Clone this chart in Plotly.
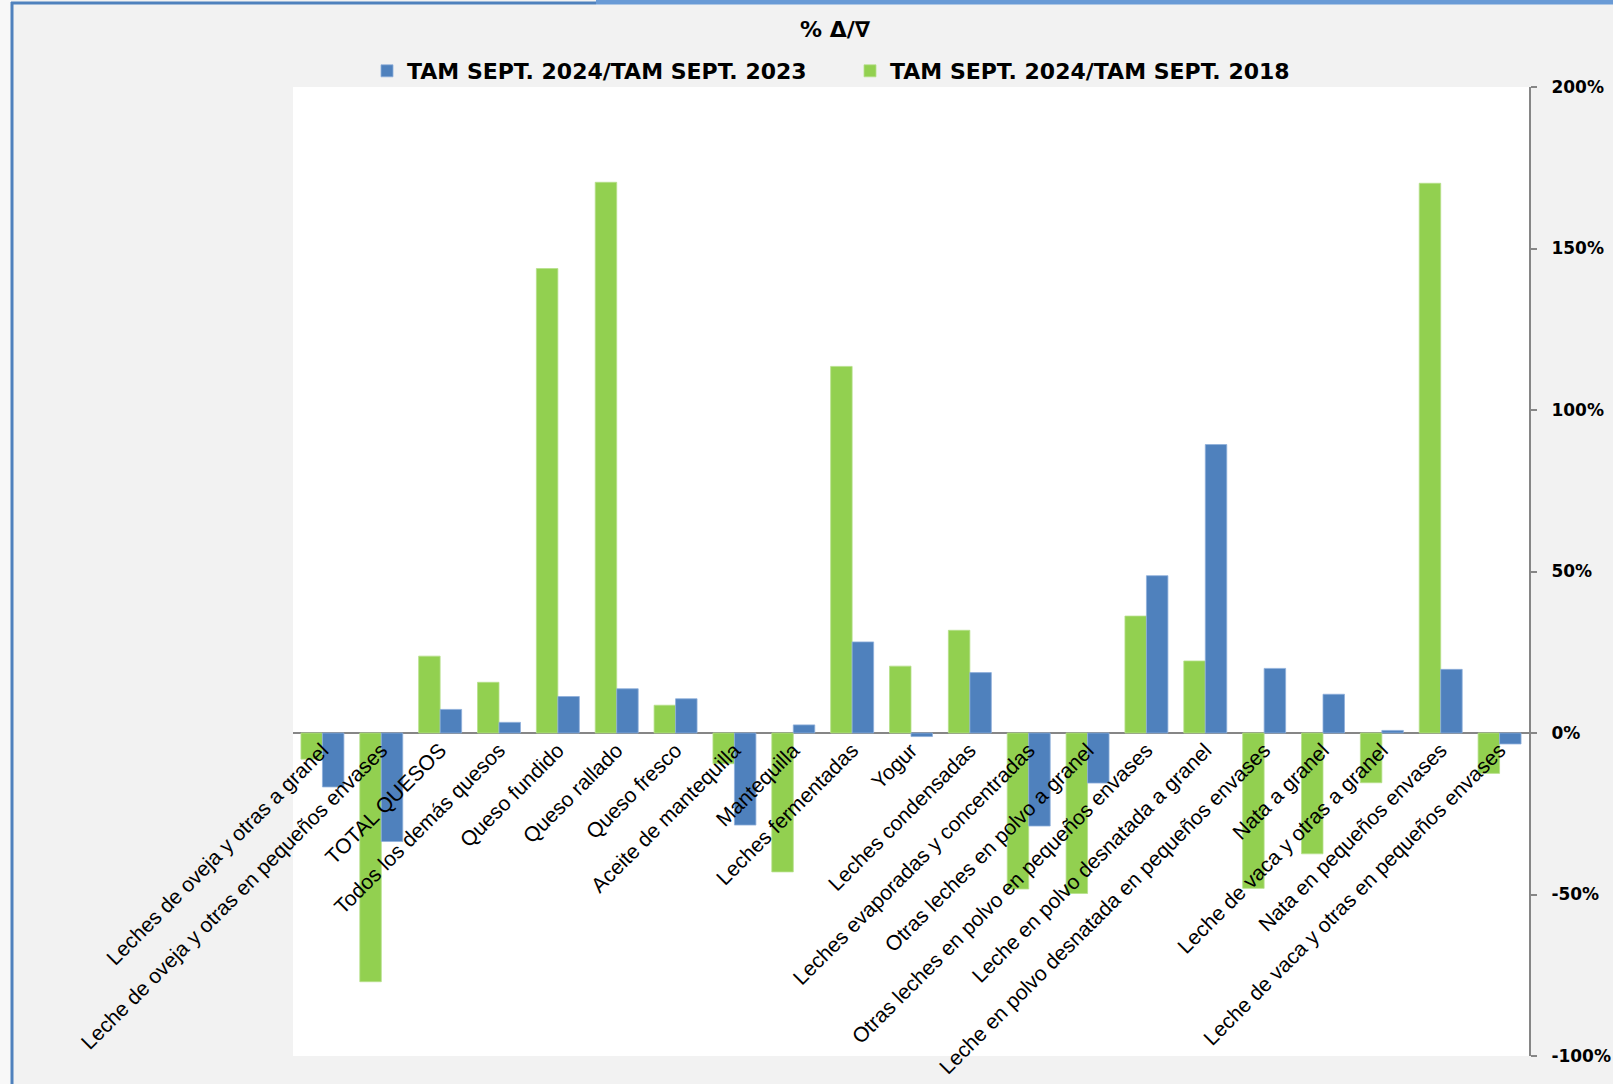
"""
Variación % de productos lácteos: TAM SEPT. 2024 frente a 2023 y 2018
"""

import plotly.graph_objects as go

categorias = [
    "Leches de oveja y otras a granel",
    "Leche de oveja y otras en pequeños envases",
    "TOTAL QUESOS",
    "Todos los demás quesos",
    "Queso fundido",
    "Queso rallado",
    "Queso fresco",
    "Aceite de mantequilla",
    "Mantequilla",
    "Leches fermentadas",
    "Yogur",
    "Leches condensadas",
    "Leches evaporadas y concentradas",
    "Otras leches en polvo a granel",
    "Otras leches en polvo en pequeños envases",
    "Leche en polvo desnatada a granel",
    "Leche en polvo desnatada en pequeños envases",
    "Nata a granel",
    "Leche de vaca y otras a granel",
    "Nata en pequeños envases",
    "Leche de vaca y otras en pequeños envases",
]

# % variación TAM SEPT. 2024 / TAM SEPT. 2018
var_2018 = [-8.1, -77.0, 23.8, 15.7, 143.8, 170.5, 8.6, -9.5, -43.0, 113.5, 20.7,
            31.8, -48.3, -49.7, 36.2, 22.3, -48.1, -37.4, -15.4, 170.2, -12.5]

# % variación TAM SEPT. 2024 / TAM SEPT. 2023
var_2023 = [-16.7, -33.6, 7.3, 3.3, 11.3, 13.7, 10.6, -28.5, 2.5, 28.2, -1.1,
            18.7, -28.8, -15.5, 48.7, 89.3, 20.0, 12.0, 0.8, 19.7, -3.4]

y_ticks = [-100, -50, 0, 50, 100, 150, 200]
y_ticktext = [f"{v}%" for v in y_ticks]

VERDE = "#92d050"
AZUL = "#4f81bd"
GRIS = "#868686"
FONDO = "#f2f2f2"

W, H = 1613, 1084
L, R, T, B = 293, 1529, 87, 1056


def px_x(x):
    return (x - L) / (R - L)


def px_y(y):
    return (B - y) / (B - T)


fig = go.Figure()

fig.add_trace(go.Bar(
    x=categorias, y=var_2018, name="TAM SEPT. 2024/TAM SEPT. 2018",
    marker=dict(color=VERDE, line=dict(color="#b6e08a", width=0.8)),
    legendrank=2,
))
fig.add_trace(go.Bar(
    x=categorias, y=var_2023, name="TAM SEPT. 2024/TAM SEPT. 2023",
    marker=dict(color=AZUL, line=dict(color="#8eaedb", width=0.8)),
    legendrank=1,
))

y_min, y_max = y_ticks[0], y_ticks[-1]

fig.update_layout(
    width=W, height=H,
    margin=dict(l=L, r=W - R, t=T, b=H - B, autoexpand=False),
    paper_bgcolor=FONDO,
    plot_bgcolor="white",
    barmode="group",
    bargap=0.27,
    bargroupgap=0,
    font=dict(family="Liberation Sans, Arial, sans-serif", color="black"),
    title=dict(
        text="% Δ/∇",
        x=px_x(835), xanchor="center", xref="paper",
        y=1 - 29 / H, yanchor="middle", yref="container",
        font=dict(family="DejaVu Sans, sans-serif", size=22, weight="bold"),
    ),
    legend=dict(
        orientation="h",
        x=px_x(367), xanchor="left",
        y=px_y(71), yanchor="middle",
        bgcolor="rgba(0,0,0,0)",
        font=dict(family="DejaVu Sans, sans-serif", size=22, weight="bold"),
        entrywidth=438,
        itemwidth=30,
        tracegroupgap=0,
    ),
    xaxis=dict(
        anchor="free",
        position=(0 - y_min) / (y_max - y_min),
        showline=False,
        showgrid=False,
        ticks="",
        tickangle=-45,
        tickfont=dict(size=21),
        automargin=False,
    ),
    yaxis=dict(
        side="right",
        range=[y_min, y_max],
        tickvals=y_ticks,
        ticktext=y_ticktext,
        showgrid=False,
        showline=True,
        linecolor=GRIS,
        linewidth=2,
        ticks="outside",
        ticklen=6,
        tickwidth=2,
        tickcolor=GRIS,
        ticklabelstandoff=11,
        zeroline=True,
        zerolinecolor=GRIS,
        zerolinewidth=2,
        tickfont=dict(family="DejaVu Sans, sans-serif", size=17, weight="bold"),
        automargin=False,
    ),
    shapes=[
        dict(type="rect", xref="paper", yref="paper",
             x0=px_x(0), x1=px_x(11), y0=px_y(H), y1=px_y(0),
             fillcolor="#f8f8f8", line=dict(width=0), layer="below"),
        dict(type="line", xref="paper", yref="paper",
             x0=px_x(12), x1=px_x(12), y0=px_y(2), y1=px_y(H),
             line=dict(color=AZUL, width=3)),
        dict(type="line", xref="paper", yref="paper",
             x0=px_x(11), x1=px_x(596), y0=px_y(3), y1=px_y(3),
             line=dict(color=AZUL, width=3)),
        dict(type="line", xref="paper", yref="paper",
             x0=px_x(596), x1=px_x(W), y0=px_y(2), y1=px_y(2),
             line=dict(color="#6a9bd6", width=5)),
    ],
)

fig.write_html(
    "out.html",
    config={"displayModeBar": False},
    post_script="document.body.style.margin='0';",
)
